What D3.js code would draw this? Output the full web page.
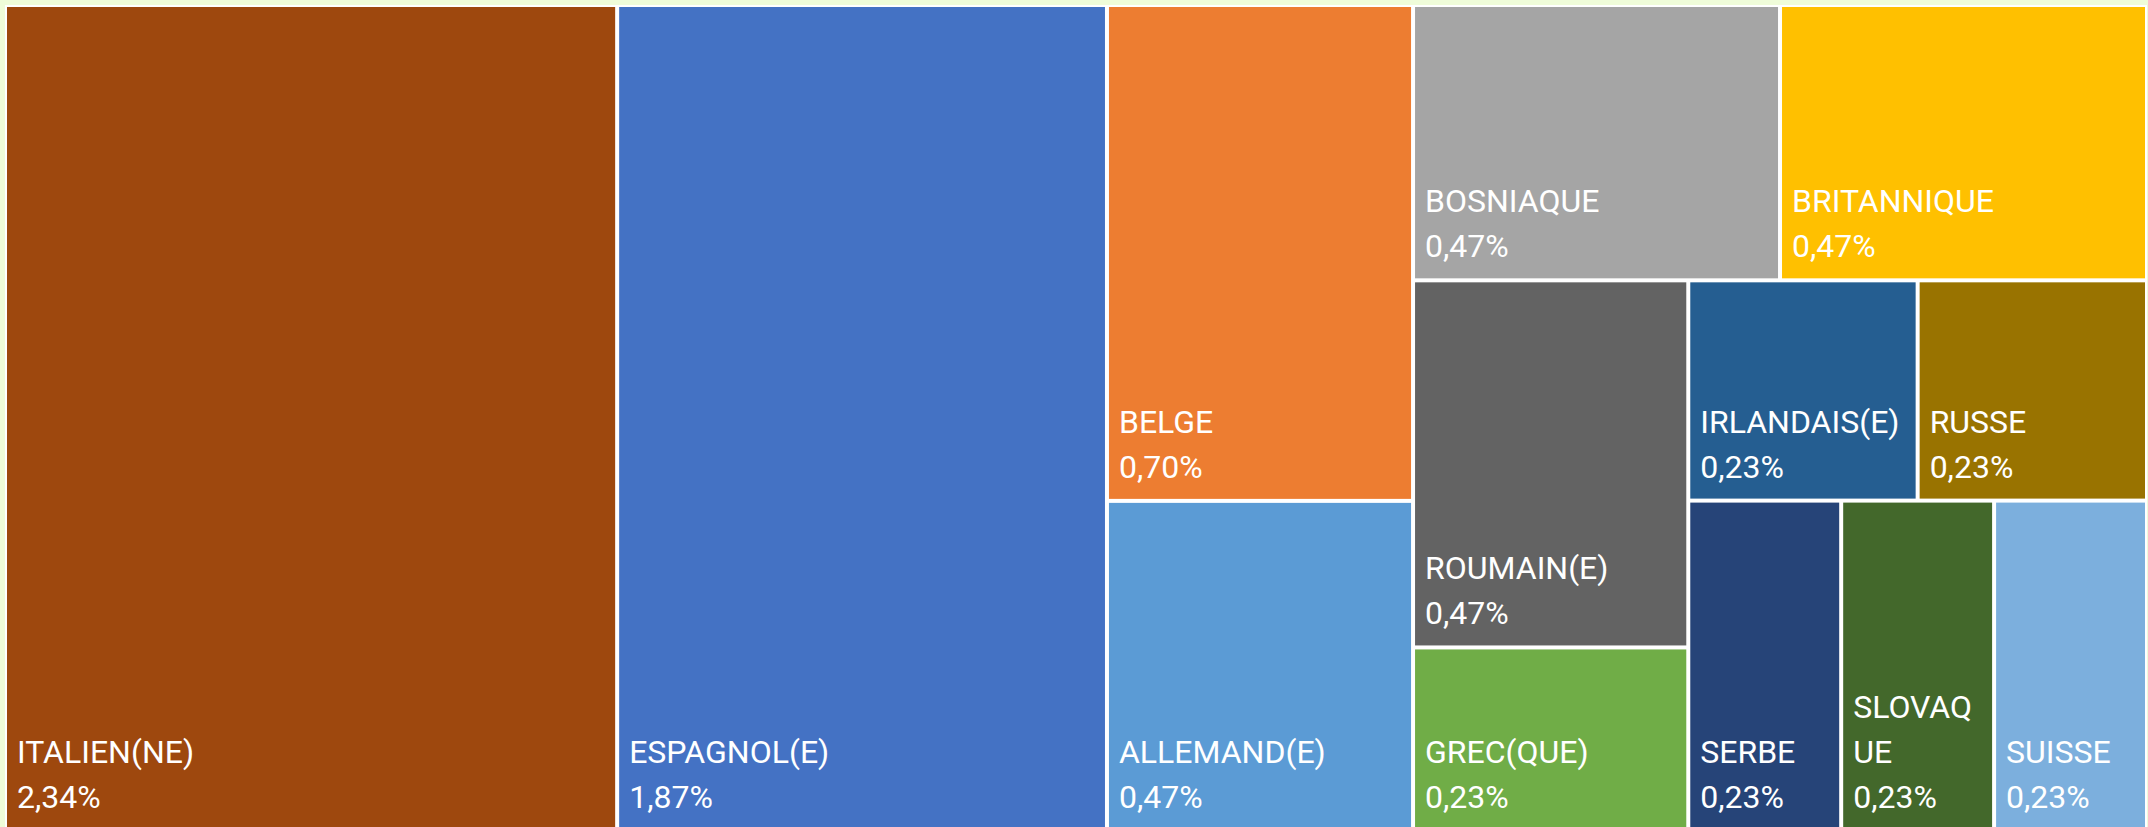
<!DOCTYPE html>
<meta charset="utf-8">
<style>
html, body {
  margin: 0;
  padding: 0;
  background: #effcd9;
}
svg { display: block; }
.label {
  font-family: Roboto, sans-serif;
  font-size: 32px;
  fill: #fff;
}
</style>
<svg width="2148" height="827"></svg>
<script src="https://cdnjs.cloudflare.com/ajax/libs/d3/7.8.5/d3.min.js"></script>
<script>
// nationalités (ordre Excel : valeur décroissante puis alphabétique)
const nationalites = ['ITALIEN(NE)', 'ESPAGNOL(E)', 'BELGE', 'ALLEMAND(E)', 'BOSNIAQUE', 'BRITANNIQUE',
  'ROUMAIN(E)', 'GREC(QUE)', 'IRLANDAIS(E)', 'RUSSE', 'SERBE', 'SLOVAQUE', 'SUISSE'];
// parts en % (affichées arrondies à 2 décimales)
const parts = [2.342, 1.874, 0.703, 0.468, 0.468, 0.468, 0.468, 0.234, 0.234, 0.234, 0.234, 0.234, 0.234];
const couleurs = ['#9e480e', '#4472c4', '#ed7d31', '#5b9bd5', '#a5a5a5', '#ffc000',
  '#636363', '#70ad47', '#255e91', '#997300', '#264478', '#43682b', '#7cafdd'];

const svg = d3.select('svg');
const frame = { x: 5, y: 5, w: 2142, h: 826 };
const fr = d3.formatLocale({ decimal: ',', thousands: ' ', grouping: [3], currency: ['', ' €'] });
const pct = v => fr.format('.2f')(v) + '%';

// squarify (ratio 1) like d3's, but a final run of equal tiles goes side by side
// when the tiles stay reasonably square -- that's what Excel does here
function excelTile(parent, x0, y0, x1, y1) {
  const nodes = parent.children, n = nodes.length;
  let value = parent.value, i0 = 0;
  while (i0 < n) {
    const dx = x1 - x0, dy = y1 - y0;
    const rest = nodes.slice(i0);
    if (rest.length > 1 && rest.every(d => d.value === rest[0].value)) {
      const cell = Math.max(dx, dy) / rest.length, short = Math.min(dx, dy);
      if (Math.max(cell / short, short / cell) <= 2.5) {
        const strip = { children: rest, value: value };
        (dx >= dy ? d3.treemapDice : d3.treemapSlice)(strip, x0, y0, x1, y1);
        return;
      }
    }
    let i1 = i0;
    let sum = nodes[i1++].value, minV = sum, maxV = sum;
    const alpha = Math.max(dy / dx, dx / dy) / value;
    let beta = sum * sum * alpha;
    let minRatio = Math.max(maxV / beta, beta / minV);
    for (; i1 < n; ++i1) {
      const v = nodes[i1].value;
      const s = sum + v, mn = Math.min(minV, v), mx = Math.max(maxV, v);
      beta = s * s * alpha;
      const r = Math.max(mx / beta, beta / mn);
      if (r > minRatio) break;
      sum = s; minV = mn; maxV = mx; minRatio = r;
    }
    const row = { children: nodes.slice(i0, i1), value: sum };
    if (dx < dy) {
      const yy = y0 + dy * sum / value;
      d3.treemapDice(row, x0, y0, x1, yy);
      y0 = yy;
    } else {
      const xx = x0 + dx * sum / value;
      d3.treemapSlice(row, x0, y0, xx, y1);
      x0 = xx;
    }
    value -= sum;
    i0 = i1;
  }
}

const root = d3.hierarchy({
  children: nationalites.map((nom, i) => ({ nom: nom, part: parts[i], couleur: couleurs[i] }))
}).sum(d => d.part || 0);

d3.treemap()
  .tile(excelTile)
  .size([frame.w, frame.h])
  .paddingOuter(2)
  .paddingInner(4)(root);

const g = svg.append('g').attr('transform', `translate(${frame.x},${frame.y})`);

g.append('rect')
  .attr('width', frame.w)
  .attr('height', frame.h)
  .attr('fill', '#fff');

const cells = g.selectAll('g.cell')
  .data(root.leaves())
  .enter()
  .append('g')
  .attr('class', 'cell');

cells.append('rect')
  .attr('x', d => d.x0)
  .attr('y', d => d.y0)
  .attr('width', d => d.x1 - d.x0)
  .attr('height', d => d.y1 - d.y0)
  .attr('fill', d => d.data.couleur);

const padX = 10, lineH = 45, bottomGap = 21;

// cut a label by characters when it doesn't fit the tile width
function wrapChars(str, maxW, probe) {
  const lines = [];
  let cur = '';
  for (const ch of str) {
    probe.text(cur + ch);
    if (cur && probe.node().getComputedTextLength() > maxW) {
      lines.push(cur);
      cur = ch;
    } else {
      cur += ch;
    }
  }
  lines.push(cur);
  return lines;
}

cells.each(function (d) {
  const text = d3.select(this).append('text').attr('class', 'label');
  const probe = text.append('tspan');
  const lines = wrapChars(d.data.nom, d.x1 - d.x0 - padX - 4, probe);
  probe.remove();
  lines.push(pct(d.data.part));
  const last = d.y1 - bottomGap;
  lines.forEach((l, i) => {
    text.append('tspan')
      .attr('x', d.x0 + padX)
      .attr('y', last - (lines.length - 1 - i) * lineH)
      .text(l);
  });
});
</script>
